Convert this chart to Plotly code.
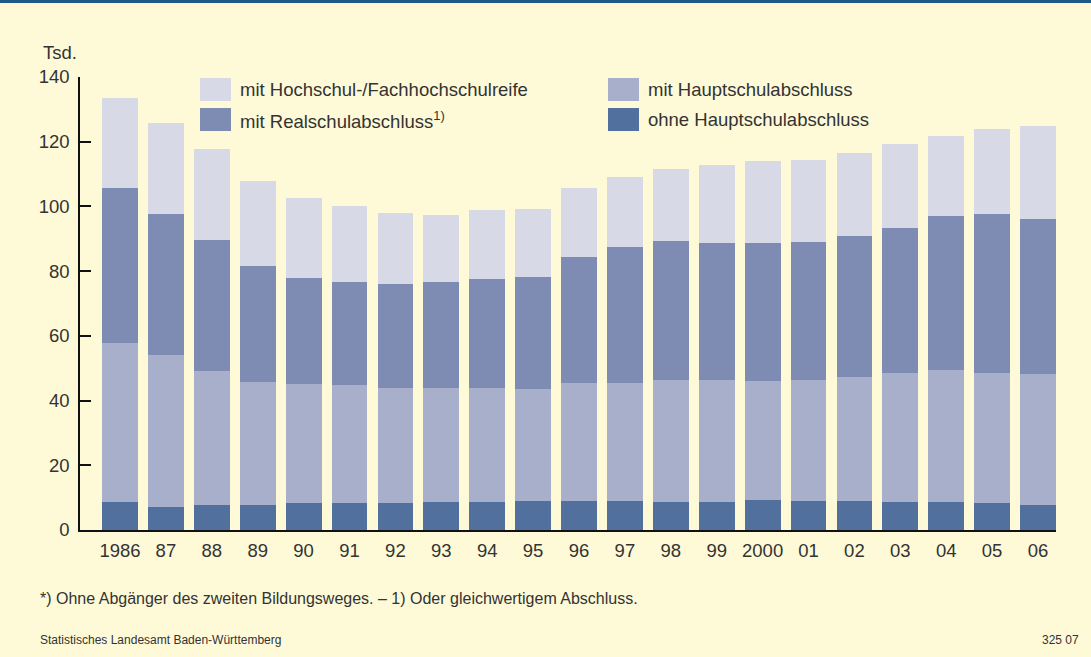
import plotly.graph_objects as go

years = ["1986", "87", "88", "89", "90", "91", "92", "93", "94", "95", "96",
         "97", "98", "99", "2000", "01", "02", "03", "04", "05", "06"]

ohne_haupt = [8.7, 7.1, 7.7, 7.7, 8.3, 8.3, 8.3, 8.7, 8.7, 9.0, 9.0,
              9.0, 8.7, 8.7, 9.3, 9.0, 9.0, 8.7, 8.7, 8.3, 7.7]
mit_haupt = [49.1, 47.0, 41.4, 38.0, 36.8, 36.5, 35.6, 35.2, 35.2, 34.6, 36.4,
             36.4, 37.7, 37.7, 36.7, 37.4, 38.3, 39.8, 40.7, 40.2, 40.5]
mit_real = [47.9, 43.5, 40.5, 35.9, 32.8, 31.8, 32.1, 32.7, 33.7, 34.6, 39.0,
            42.1, 42.9, 42.3, 42.7, 42.6, 43.6, 44.8, 47.6, 49.1, 47.9]
mit_hoch = [27.7, 28.2, 28.1, 26.2, 24.7, 23.5, 22.0, 20.7, 21.3, 21.0, 21.3,
            21.6, 22.3, 24.1, 25.3, 25.3, 25.6, 26.0, 24.8, 26.3, 28.7]

names = ["ohne Hauptschulabschluss", "mit Hauptschulabschluss",
         "mit Realschulabschluss<sup>1)</sup>", "mit Hochschul-/Fachhochschulreife"]
colors = ["#52709E", "#A8AFCB", "#7E8CB4", "#D7D9E6"]
series = [ohne_haupt, mit_haupt, mit_real, mit_hoch]

y_ticks = [0, 20, 40, 60, 80, 100, 120, 140]

BG = "#FEFAD8"
TXT = "#333333"
FONT = "Liberation Sans, Arial, sans-serif"
FS = 18.5

W, H = 1091, 657
L, R, T, B = 80, 35, 77, 127
pw, ph = W - L - R, H - T - B

x_idx = list(range(len(years)))

fig = go.Figure()
for nm, col, vals in zip(names, colors, series):
    fig.add_trace(go.Bar(x=x_idx, y=vals, name=nm, marker=dict(color=col, line=dict(width=0)),
                         showlegend=False, hoverinfo="skip"))


def px2paper(px, py):
    return (px - L) / pw, (H - B - py) / ph


shapes = []
annotations = []

# top blue line
shapes.append(dict(type="rect", xref="paper", yref="paper",
                   x0=-L / pw, x1=(W - L) / pw, y0=(H - B - 3) / ph, y1=(H - B) / ph,
                   fillcolor="#1E5A87", line=dict(width=0), layer="above"))

# legend (manual, 2x2 grid)
legend_items = [(3, 200, 78), (1, 608, 78), (2, 200, 108), (0, 608, 108)]
for si, sx, sy in legend_items:
    x0, y1 = px2paper(sx, sy)
    x1, y0 = px2paper(sx + 31, sy + 23)
    shapes.append(dict(type="rect", xref="paper", yref="paper", x0=x0, x1=x1, y0=y0, y1=y1,
                       fillcolor=colors[si], line=dict(width=0)))
    tx, ty = px2paper(sx + 38, sy + 11.5)
    annotations.append(dict(xref="paper", yref="paper", x=tx, y=ty, xanchor="left",
                            yanchor="middle", text=names[si], showarrow=False,
                            font=dict(size=FS, color=TXT, family=FONT)))

# unit label
ax, ay = px2paper(41, 53)
annotations.append(dict(xref="paper", yref="paper", x=ax, y=ay, xanchor="left", yanchor="middle",
                        text="Tsd.", showarrow=False, font=dict(size=FS, color=TXT, family=FONT)))

# footnote
fx, fy = px2paper(38, 598)
annotations.append(dict(xref="paper", yref="paper", x=fx, y=fy, xanchor="left", yanchor="middle",
                        text="*) Ohne Abgänger des zweiten Bildungsweges. – 1) Oder gleichwertigem Abschluss.",
                        showarrow=False, font=dict(size=16, color=TXT, family=FONT)))

# source
sx_, sy_ = px2paper(38, 640)
annotations.append(dict(xref="paper", yref="paper", x=sx_, y=sy_, xanchor="left", yanchor="middle",
                        text="Statistisches Landesamt Baden-Württemberg",
                        showarrow=False, font=dict(size=12, color=TXT, family=FONT)))
nx, ny = px2paper(1081, 640)
annotations.append(dict(xref="paper", yref="paper", x=nx, y=ny, xanchor="right", yanchor="middle",
                        text="325 07", showarrow=False, font=dict(size=12, color=TXT, family=FONT)))

pitch = 45.9
x_lo = -40 / pitch
x_hi = x_lo + pw / pitch

fig.update_layout(
    width=W, height=H,
    margin=dict(l=L, r=R, t=T, b=B, pad=0),
    paper_bgcolor=BG, plot_bgcolor=BG,
    barmode="stack", bargap=0.22,
    font=dict(family=FONT, color=TXT, size=FS),
    shapes=shapes, annotations=annotations,
    xaxis=dict(range=[x_lo, x_hi], tickmode="array", tickvals=x_idx, ticktext=years,
               showgrid=False, zeroline=False, showline=True, linecolor="#111111", linewidth=2,
               ticks="", tickfont=dict(size=FS, color=TXT), ticklabelstandoff=3),
    yaxis=dict(range=[0, 140], tickmode="array", tickvals=y_ticks,
               showgrid=False, zeroline=False, showline=True, linecolor="#111111", linewidth=1.5,
               ticks="inside", ticklen=11, tickwidth=1.5, tickcolor="#111111",
               tickfont=dict(size=FS, color=TXT), ticklabelstandoff=5),
)

fig.write_html("out.html", config={"displayModeBar": False},
               post_script="document.body.style.margin='0';document.body.style.background='" + BG + "';")
